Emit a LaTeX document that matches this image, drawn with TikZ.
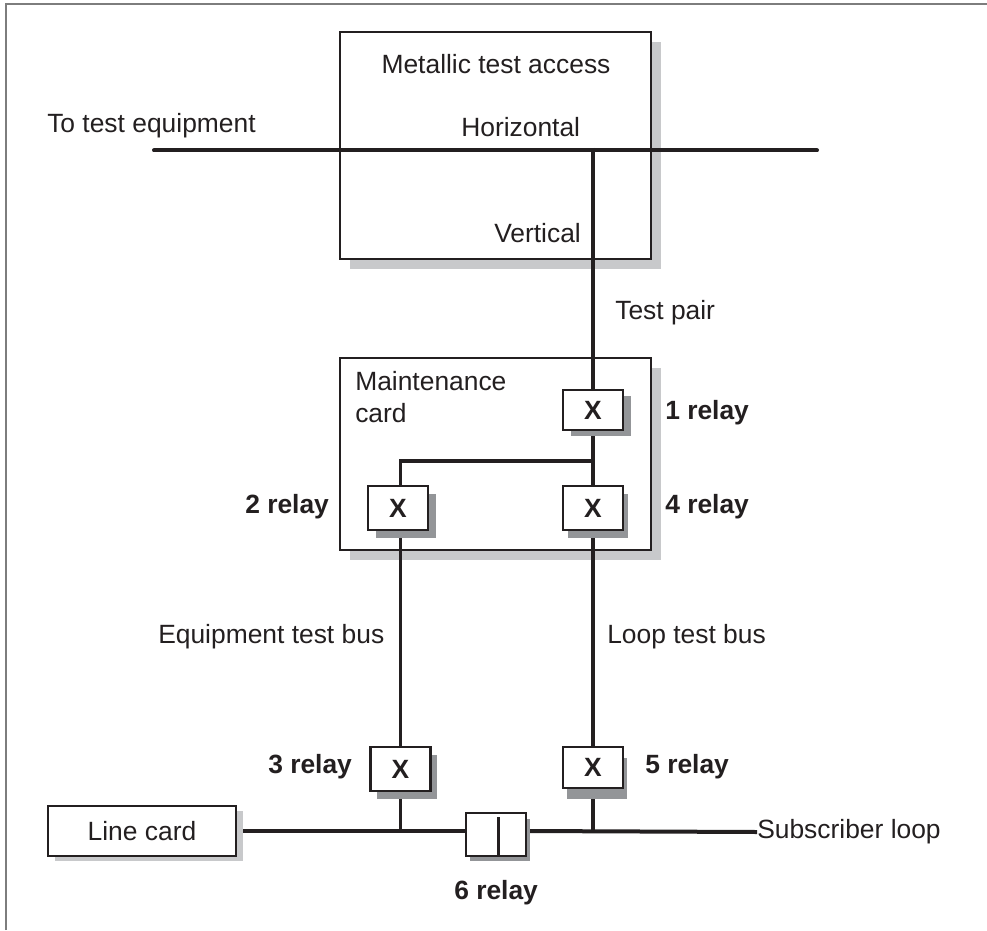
\documentclass[tikz,border=0pt]{standalone}
\usepackage{fontspec}
\setmainfont{Liberation Sans}
\usepackage{xcolor}
\usetikzlibrary{shadows}
\definecolor{inkblack}{RGB}{35,31,32}
\definecolor{framegray}{RGB}{125,125,125}
\definecolor{shadowlight}{RGB}{200,201,203}
\definecolor{shadowdark}{RGB}{147,149,152}
\pgfdeclarelayer{boxes}
\pgfdeclarelayer{wires}
\pgfsetlayers{boxes,wires,main}

\begin{document}
\begin{tikzpicture}[
  x=0.75pt, y=-0.75pt,
  font=\fontsize{19.8pt}{24pt}\selectfont,
  txt/.style={text=inkblack, inner sep=0pt, anchor=west},
  relaylbl/.style={txt, font=\fontsize{19.8pt}{24pt}\selectfont\bfseries},
  bigbox/.style={draw=inkblack, line width=1.9pt, fill=white, inner sep=0pt,
    minimum width=#1, drop shadow={opacity=1, fill=shadowlight, shadow xshift=7.5pt, shadow yshift=-7.5pt}},
  relaybox/.style n args={4}{draw=inkblack, line width=1.9pt, fill=white, inner sep=0pt,
    text=inkblack, font=\fontsize{19.8pt}{24pt}\selectfont\bfseries,
    minimum width=#1, minimum height=#2,
    drop shadow={opacity=1, fill=shadowdark, shadow xshift=#3, shadow yshift=#4}},
  wire/.style={draw=inkblack, line width=2.4pt}
]
  \useasboundingbox (0,0) rectangle (987,930);
  \begin{pgfonlayer}{boxes}
    \draw[framegray, line width=0.9pt] (6,930) -- (6,4) -- (987,4);
    \node[bigbox=233pt, minimum height=170.5pt] (access) at (495.5,145.5) {};
    \node[bigbox=233pt, minimum height=144pt] (maint) at (495.5,454) {};
  \end{pgfonlayer}

  % relays
  \node[relaybox={45pt}{30pt}{6pt}{-4.5pt}] (x1) at (593,410) {X};
  \node[relaybox={45pt}{33pt}{6pt}{-6pt}] (x2) at (398,508) {X};
  \node[relaybox={45pt}{33pt}{4pt}{-6pt}] (x4) at (593,508) {X};
  \node[relaybox={45pt}{33pt}{4.5pt}{-6pt}] (x3) at (400.5,769) {X};
  \node[relaybox={45pt}{31pt}{3pt}{-8pt}] (x5) at (593,767.5) {X};
  \node[relaybox={45pt}{32pt}{3pt}{-4pt}] (relay6) at (496,834.5) {};
  \node[draw=inkblack, line width=1.9pt, fill=white, inner sep=0pt, minimum width=141pt, minimum height=37.5pt,
    text=inkblack, drop shadow={opacity=1, fill=shadowlight, shadow xshift=5pt, shadow yshift=-4pt}] (linecard) at (142,831) {Line card};

  % labels
  \node[txt, anchor=center] (title) at (496,64) {Metallic test access};
  \node[txt] (horiz) at (461,127) {Horizontal};
  \node[txt] (vert) at (494,233) {Vertical};
  \node[txt] (toequip) at (47,126) {To test equipment};
  \node[txt] (testpair) at (615,313) {Test pair};
  \node[txt, align=left] (mcard) at (355,397) {Maintenance\\card};
  \node[txt] (eqbus) at (158,637) {Equipment test bus};
  \node[txt] (loopbus) at (607,637) {Loop test bus};
  \node[txt] (subloop) at (757,832) {Subscriber loop};
  \node[relaylbl] (lbl1) at (665,413) {1 relay};
  \node[relaylbl] (lbl2) at (245,507) {2 relay};
  \node[relaylbl] (lbl4) at (665,507) {4 relay};
  \node[relaylbl] (lbl3) at (268,767) {3 relay};
  \node[relaylbl] (lbl5) at (645,767) {5 relay};
  \node[relaylbl] (lbl6) at (454,893) {6 relay};

  \coordinate (hleft) at (154,150.5);
  \coordinate (hright) at (817,150.5);
  \coordinate (tap) at (593,148);
  \coordinate (branch) at (593,461);
  \coordinate (bar) at (498.5,817);

  \begin{pgfonlayer}{wires}
    \draw[wire, line cap=round, line width=3pt] (hleft) -- (hright);
    \draw[wire] (tap) -- (x1.north);
    \draw[wire] (x1.south) -- (x4.north);
    \draw[wire] (branch) -| (x3.north |- x2.north);
    \draw[wire] (x3.north |- x2.south) -- (x3.north);
    \draw[wire] (x4.south) -- (x5.north);
    \draw[wire] (x3.south) -- (x3.south |- linecard.east);
    \draw[wire] (x5.south) -- (x5.south |- linecard.east);
    \draw[wire, line width=3pt] (linecard.east) -- (relay6.west |- linecard.east);
    \draw[wire, line width=3pt] (relay6.east |- linecard.east) -- (subloop.west);
  \end{pgfonlayer}
  \draw[wire] (bar) -- (bar |- relay6.south);
\end{tikzpicture}
\end{document}
